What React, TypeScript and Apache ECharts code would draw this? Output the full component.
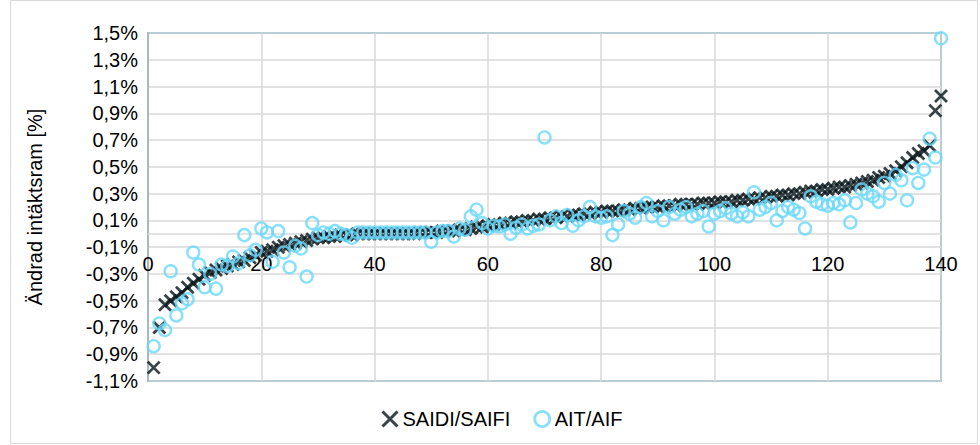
import React, { useEffect, useRef } from "react";
import * as echarts from "echarts";

const xValues: number[] = Array.from({ length: 140 }, (_, i) => i + 1);

const saidiSaifi: number[] = [
  -1.0, -0.7, -0.53, -0.5, -0.47, -0.44, -0.4, -0.37, -0.34, -0.31,
  -0.29, -0.27, -0.26, -0.24, -0.23, -0.21, -0.2, -0.18, -0.16, -0.14,
  -0.13, -0.12, -0.1, -0.09, -0.08, -0.07, -0.06, -0.05, -0.04, -0.03,
  -0.03, -0.02, -0.02, -0.01, -0.01, -0.01, 0.0, 0.0, 0.0, 0.0,
  0.0, 0.0, 0.0, 0.0, 0.0, 0.0, 0.0, 0.01, 0.01, 0.01,
  0.01, 0.02, 0.02, 0.02, 0.03, 0.03, 0.04, 0.05, 0.05, 0.06,
  0.07, 0.07, 0.08, 0.08, 0.09, 0.09, 0.1, 0.1, 0.11, 0.11,
  0.12, 0.12, 0.13, 0.13, 0.14, 0.14, 0.15, 0.15, 0.16, 0.16,
  0.17, 0.17, 0.17, 0.18, 0.18, 0.19, 0.19, 0.2, 0.2, 0.2,
  0.21, 0.21, 0.21, 0.22, 0.22, 0.22, 0.22, 0.23, 0.23, 0.23,
  0.24, 0.24, 0.24, 0.25, 0.25, 0.26, 0.26, 0.27, 0.27, 0.28,
  0.28, 0.29, 0.29, 0.3, 0.3, 0.31, 0.32, 0.32, 0.33, 0.33,
  0.34, 0.35, 0.35, 0.36, 0.37, 0.38, 0.39, 0.4, 0.42, 0.43,
  0.45, 0.47, 0.5, 0.53, 0.57, 0.6, 0.62, 0.66, 0.92, 1.03,
];

const aitAif: number[] = [
  -0.84, -0.67, -0.72, -0.28, -0.61, -0.52, -0.49, -0.14, -0.23, -0.4,
  -0.3, -0.41, -0.23, -0.24, -0.17, -0.22, -0.01, -0.16, -0.12, 0.04,
  0.01, -0.21, 0.02, -0.14, -0.25, -0.09, -0.11, -0.32, 0.08, -0.01,
  0.01, 0.0, 0.02, 0.0, -0.01, -0.03, 0.01, 0.01, 0.01, 0.01,
  0.01, 0.01, 0.01, 0.01, 0.01, 0.01, 0.01, 0.01, 0.01, -0.06,
  0.01, 0.02, 0.02, -0.02, 0.04, 0.03, 0.13, 0.18, 0.08, 0.04,
  0.06, 0.055, 0.07, 0.0, 0.045, 0.07, 0.04, 0.06, 0.07, 0.72,
  0.1, 0.13, 0.08, 0.14, 0.06, 0.1, 0.13, 0.2, 0.13, 0.12,
  0.13, -0.01, 0.07, 0.17, 0.15, 0.12, 0.2, 0.23, 0.13, 0.17,
  0.1, 0.2, 0.15, 0.18, 0.2, 0.13, 0.15, 0.17, 0.055, 0.15,
  0.17, 0.19, 0.15, 0.13, 0.16, 0.13, 0.31, 0.18, 0.2, 0.23,
  0.1, 0.17, 0.2, 0.18, 0.155, 0.04, 0.28, 0.24, 0.22, 0.21,
  0.23, 0.22, 0.25, 0.085, 0.23, 0.33, 0.3, 0.28, 0.24, 0.38,
  0.3, 0.44, 0.4, 0.25, 0.49, 0.38, 0.48, 0.71, 0.57, 1.46,
];

const seriesNames: string[] = ["SAIDI/SAIFI", "AIT/AIF"];

const FONT = "'Liberation Sans', Arial, sans-serif";
const X_PATH = "path://M0,0L10,10M10,0L0,10";
const DARK = "#061419";
const LIGHT = "#6ad8fa";

export default function App() {
  const ref = useRef<HTMLDivElement>(null);

  useEffect(() => {
    if (!ref.current) return;
    const chart = echarts.init(ref.current, undefined, { renderer: "svg" });
    const fmt = (v: number) => {
      const s = (Math.round(v * 10) / 10).toFixed(1).replace(".", ",");
      return s + "%";
    };
    chart.setOption({
      animation: false,
      backgroundColor: "#ffffff",
      textStyle: { fontFamily: FONT },
      graphic: [
        {
          type: "rect",
          shape: { x: 10.5, y: 0.5, width: 967, height: 443 },
          style: { fill: "none", stroke: "#d9d9d9", lineWidth: 1 },
          silent: true,
          z: -10,
        },
      ],
      grid: {
        left: 148,
        right: 39,
        top: 33,
        bottom: 64,
        show: true,
        borderColor: "#2a93b8",
        borderWidth: 1.5,
        backgroundColor: "transparent",
      },
      legend: {
        left: 376,
        top: 404,
        itemWidth: 15,
        itemHeight: 15,
        itemGap: 23,
        textStyle: { fontFamily: FONT, fontSize: 20, color: "#000000" },
        data: [
          {
            name: seriesNames[0],
            icon: X_PATH,
            itemStyle: { color: "rgba(0,0,0,0)", borderColor: DARK, borderWidth: 3 },
          },
          {
            name: seriesNames[1],
            icon: "circle",
            itemStyle: { color: "rgba(0,0,0,0)", borderColor: LIGHT, borderWidth: 2.8 },
          },
        ],
      },
      xAxis: {
        type: "value",
        min: 0,
        max: 140,
        interval: 20,
        axisLine: { show: true, onZero: true, lineStyle: { color: "#d9d9d9", width: 1.5 } },
        axisTick: { show: false },
        axisLabel: {
          margin: -127,
          verticalAlign: "top",
          fontSize: 20,
          color: "#000000",
          fontFamily: FONT,
          showMinLabel: true,
          showMaxLabel: true,
        },
        splitLine: { show: true, lineStyle: { color: "#d9d9d9", width: 1.5 } },
      },
      yAxis: {
        type: "value",
        min: -1.1,
        max: 1.5,
        interval: 0.2,
        name: "Ändrad intäktsram [%]",
        nameLocation: "middle",
        nameGap: 103,
        nameRotate: 90,
        nameTextStyle: { fontSize: 20, color: "#000000", fontFamily: FONT },
        axisLine: { show: true, lineStyle: { color: "#a6b8c0", width: 2 } },
        axisTick: { show: false },
        axisLabel: {
          fontSize: 20,
          color: "#000000",
          fontFamily: FONT,
          margin: 10,
          formatter: fmt,
        },
        splitLine: { show: true, lineStyle: { color: "#d9d9d9", width: 1.5 } },
      },
      series: [
        {
          name: seriesNames[0],
          type: "scatter",
          symbol: X_PATH,
          symbolSize: 12,
          data: xValues.map((x, i) => [x, saidiSaifi[i]]),
          itemStyle: { color: "rgba(0,0,0,0)", borderColor: DARK, borderWidth: 2.8 },
          emphasis: { disabled: true },
          z: 2,
        },
        {
          name: seriesNames[1],
          type: "scatter",
          symbol: "circle",
          symbolSize: 12,
          data: xValues.map((x, i) => [x, aitAif[i]]),
          itemStyle: { color: "rgba(0,0,0,0)", borderColor: LIGHT, borderWidth: 2.4 },
          emphasis: { disabled: true },
          z: 3,
        },
      ],
    });
    return () => chart.dispose();
  }, []);

  return (
    <div
      ref={ref}
      style={{ position: "fixed", left: 0, top: 0, width: 980, height: 445, background: "#fff" }}
    />
  );
}
